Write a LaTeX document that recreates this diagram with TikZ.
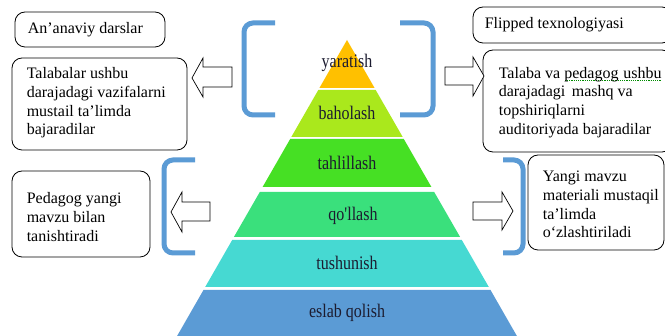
\documentclass[tikz,border=0pt]{standalone}
\usepackage{fontspec}
\setmainfont{Liberation Serif}
\newfontfamily\noligserif[Ligatures=TeXOff]{Liberation Serif}
\definecolor{brk}{HTML}{5B9BD5}
\definecolor{lay1}{HTML}{FFC000}
\definecolor{lay2}{HTML}{AAE81C}
\definecolor{lay3}{HTML}{46E024}
\definecolor{lay4}{HTML}{3AE07C}
\definecolor{lay5}{HTML}{46D9D2}
\definecolor{lay6}{HTML}{5B9BD5}
\definecolor{labtxt}{HTML}{1C1C30}
\newsavebox\ulbox
\newcommand\spellul[1]{\sbox\ulbox{#1}\leavevmode\rlap{\textcolor{green!55!black}{\raisebox{-0.35ex}{\leaders\hbox to 2.2pt{\hss\rule{1.1pt}{0.6pt}\hss}\hskip\wd\ulbox}}}\usebox\ulbox}
\newcommand\tallx[1]{\scalebox{1}[1.2]{#1}}
\begin{document}
\begin{tikzpicture}[x=1pt,y=-1pt,
  box/.style={draw=black, line width=0.8pt, rounded corners=10pt, fill=white, inner sep=0pt},
  btxt/.style={font=\fontsize{16}{18.7}\selectfont, align=left, anchor=west, inner sep=0pt},
  lab/.style={font=\fontsize{16}{18}\selectfont, text=labtxt, inner sep=0pt},
  brkt/.style={draw=brk, line width=5pt, rounded corners=9pt},
  harrow/.style={draw=black, line width=0.7pt, fill=white, line join=miter}]
\useasboundingbox (0,0) rectangle (665,336);
\fill[white] (0,0) rectangle (665,336);

% pyramid
\fill[lay1] (347,40) -- (374.6,88) -- (319.4,88) -- cycle;
\fill[lay2] (318.3,90) -- (375.7,90) -- (402.7,137) -- (291.3,137) -- cycle;
\fill[lay3] (290.2,139) -- (403.8,139) -- (431.4,187) -- (262.6,187) -- cycle;
\fill[lay4] (259.8,192) -- (434.2,192) -- (460.1,237) -- (233.9,237) -- cycle;
\fill[lay5] (232.2,240) -- (461.8,240) -- (488.8,287) -- (205.2,287) -- cycle;
\fill[lay6] (203.5,290) -- (490.5,290) -- (519.2,340) -- (174.8,340) -- cycle;

\node[lab] (l1) at (347,63) {\tallx{yaratish}};
\node[lab] (l2) at (347,113) {\tallx{baholash}};
\node[lab] (l3) at (347,163) {\tallx{tahlillash}};
\node[lab] (l4) at (353,216) {\tallx{\noligserif qo'llash}};
\node[lab] (l5) at (347,263) {\tallx{tushunish}};
\node[lab] (l6) at (347,313) {\tallx{eslab qolish}};

% brackets
\draw[brkt] (275,23) -- (244,23) -- (244,115) -- (275,115);
\draw[brkt] (400,23) -- (433,23) -- (433,115) -- (400,115);
\draw[brkt] (195,160) -- (164,160) -- (164,253) -- (195,253);
\draw[brkt] (503,160) -- (523,160) -- (523,253) -- (503,253);

% boxes
\node[box, minimum width=150pt, minimum height=35pt] (b1) at (90,29.5) {};
\node[btxt] (t1) at ([xshift=13pt]b1.west) {An’anaviy darslar};
\node[box, minimum width=175pt, minimum height=92pt] (b2) at (99.5,104) {};
\node[btxt] (t2) at ([xshift=15pt,yshift=1pt]b2.west)
  {Talabalar ushbu\\ darajadagi vazifalarni\\ mustail ta’limda\\ bajaradilar};
\node[box, minimum width=199pt, minimum height=36pt] (b3) at (572.5,25) {};
\node[btxt] (t3) at ([xshift=12pt]b3.west) {Flipped texnologiyasi};
\node[box, minimum width=189pt, minimum height=102pt] (b4) at (577.5,101) {};
\node[btxt] (t4) at ([xshift=16pt,yshift=-1.5pt]b4.west)
  {Talaba va \spellul{pedagog\hspace{0.3em}ushbu}\\ darajadagi\hspace{0.4em}mashq va\\ topshiriqlarni\\ auditoriyada bajaradilar};
\node[box, minimum width=138pt, minimum height=86pt] (b5) at (81,214) {};
\node[btxt] (t5) at ([xshift=15pt,yshift=-3pt]b5.west)
  {Pedagog yangi\\ mavzu bilan\\ tanishtiradi};
\node[box, minimum width=136pt, minimum height=95pt] (b6) at (596,202.5) {};
\node[btxt] (t6) at ([xshift=15pt,yshift=-2pt]b6.west)
  {Yangi mavzu\\ materiali mustaqil\\ ta’limda\\ o‘zlashtiriladi};

% hollow block arrows
\draw[harrow] (192,78) -- (203,58) -- (203,67) -- (232,67) -- (232,87) -- (203,87) -- (203,97) -- cycle;
\draw[harrow] (445,67) -- (473,67) -- (473,57) -- (484,76) -- (473,96) -- (473,85) -- (445,85) -- cycle;
\draw[harrow] (171,212) -- (182,192) -- (182,202) -- (210,202) -- (210,221) -- (182,221) -- (182,232) -- cycle;
\draw[harrow] (473,202) -- (502,202) -- (502,192) -- (513,211) -- (502,230) -- (502,220) -- (473,220) -- cycle;
\end{tikzpicture}
\end{document}
